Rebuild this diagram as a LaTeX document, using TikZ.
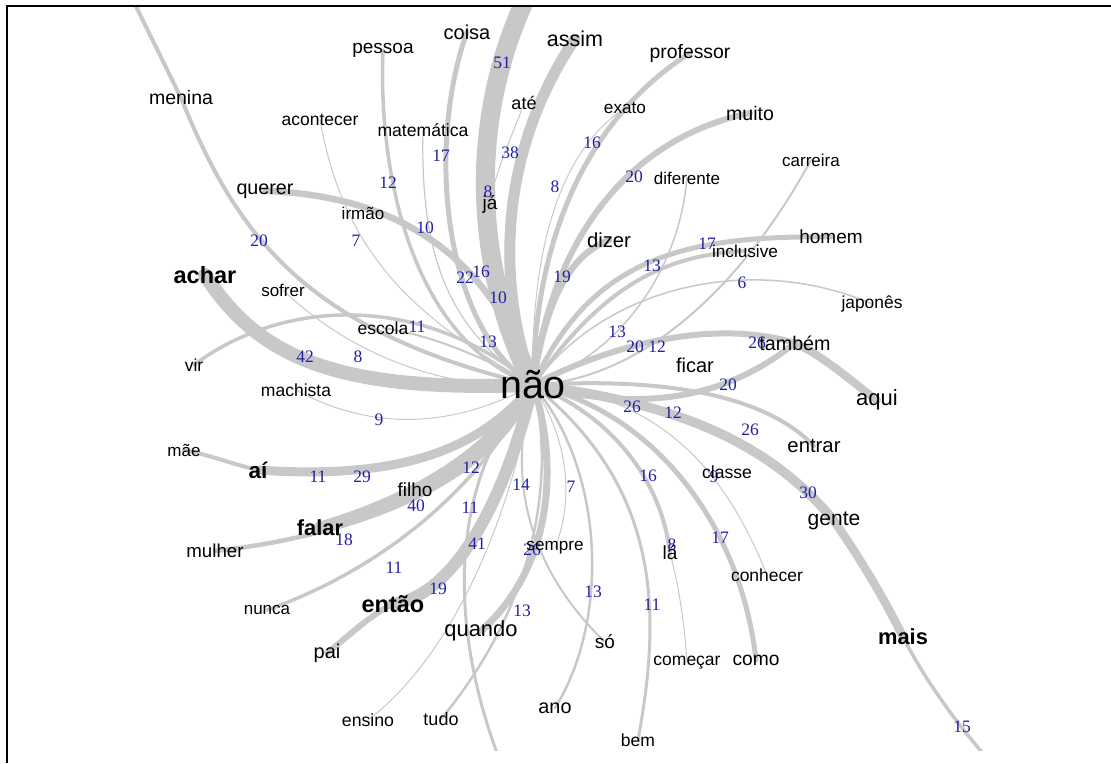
\documentclass[tikz,border=0pt]{standalone}
\usepackage{fontspec}
\setmainfont{Liberation Sans}
\newfontfamily\lblfont{Liberation Serif}
\definecolor{eg}{RGB}{200,200,200}
\definecolor{lb}{RGB}{32,32,165}
\pgfdeclarelayer{bg}
\pgfdeclarelayer{mid}
\pgfsetlayers{bg,mid,main}
\begin{document}
\begin{tikzpicture}[x=1pt,y=-1pt,
  wd/.style={inner sep=0pt, text=black, font=\fontsize{#1}{#1}\selectfont},
  wdb/.style={inner sep=0pt, text=black, font=\bfseries\fontsize{#1}{#1}\selectfont},
  lbl/.style={inner sep=0pt, text=lb, font=\lblfont\fontsize{17.5}{17.5}\selectfont},
  ed/.style={draw=eg, line width=#1, line cap=round},
  frame/.style={draw=black, line width=2pt}]
\useasboundingbox (0,0) rectangle (1111,763);
\draw[frame] (6.7,763) -- (6.7,5.7) -- (1111,5.7);

% words
\node[wd=39.5] (nao) at (533,385) {não};
\node[wd=19.5] (menina) at (181,98) {menina};
\node[wd=19] (pessoa) at (383,50) {pessoa};
\node[wd=20] (coisa) at (467,32) {coisa};
\node[wd=21.5] (assim) at (575,39) {assim};
\node[wd=19.4] (professor) at (690,53) {professor};
\node[wd=17.5] (acontecer) at (320,120) {acontecer};
\node[wd=17.6] (matematica) at (423,130) {matemática};
\node[wd=18] (ate) at (524,103) {até};
\node[wd=17.2] (exato) at (625,108) {exato};
\node[wd=19.6] (muito) at (750,113) {muito};
\node[wd=17] (carreira) at (811,160) {carreira};
\node[wd=17] (diferente) at (687,178) {diferente};
\node[wd=19.7] (querer) at (265,191) {querer};
\node[wd=17] (irmao) at (363,213) {irmão};
\node[wd=19] (ja) at (490,204) {já};
\node[wd=20.3] (dizer) at (609,240) {dizer};
\node[wd=19] (homem) at (831,237) {homem};
\node[wd=17.2] (inclusive) at (745,251) {inclusive};
\node[wdb=23.5] (achar) at (205,275) {achar};
\node[wd=17] (sofrer) at (283,290) {sofrer};
\node[wd=17.4] (japones) at (872,304) {japonês};
\node[wd=17.5] (escola) at (383,328) {escola};
\node[wd=19.7] (tambem) at (795,343) {também};
\node[wd=17.5] (vir) at (194,365) {vir};
\node[wd=20] (ficar) at (695,365) {ficar};
\node[wd=17.5] (machista) at (296,390) {machista};
\node[wd=22] (aqui) at (877,400) {aqui};
\node[wd=20.3] (entrar) at (814,446) {entrar};
\node[wd=17] (mae) at (184,450) {mãe};
\node[wdb=22.5] (ai) at (258,470) {aí};
\node[wd=17.6] (classe) at (727,472) {classe};
\node[wd=19] (filho) at (415,490) {filho};
\node[wd=21] (gente) at (834,521) {gente};
\node[wdb=21.8] (falar) at (320,528) {falar};
\node[wd=18.7] (mulher) at (215,551) {mulher};
\node[wd=17.1] (sempre) at (555,548) {sempre};
\node[wd=19] (la) at (670,553) {lá};
\node[wd=17.5] (conhecer) at (767,575) {conhecer};
\node[wd=17] (nunca) at (267,610) {nunca};
\node[wdb=23.5] (entao) at (393,604) {então};
\node[wd=21.9] (quando) at (481,631) {quando};
\node[wd=19] (so) at (605,642) {só};
\node[wd=20] (pai) at (327,653) {pai};
\node[wd=17.5] (comecar) at (687,663) {começar};
\node[wd=19.2] (como) at (756,660) {como};
\node[wdb=21.9] (mais) at (903,637) {mais};
\node[wd=19.8] (ano) at (555,708) {ano};
\node[wd=17.7] (ensino) at (368,720) {ensino};
\node[wd=18] (tudo) at (441,719) {tudo};
\node[wd=17.5] (bem) at (638,740) {bem};

\coordinate (offt) at (530,-10);
\coordinate (offtl) at (128,-10);
\coordinate (offb) at (512,790);
\coordinate (offbr) at (1005,778);

% connectors
\begin{pgfonlayer}{bg}
\begin{scope}
\clip (7.7,6.7) rectangle (1111,750);
\draw[ed=19] (nao.center) .. controls (470,260) and (470,110) .. (offt);
\draw[ed=11] (nao.center) .. controls (495,280) and (500,150) .. (assim.center);
\draw[ed=1] (ja.center) .. controls (495,170) and (515,130) .. (ate.center);
\draw[ed=5] (nao.center) .. controls (445,330) and (425,150) .. (coisa.center);
\draw[ed=3.5] (nao.center) .. controls (410,340) and (378,170) .. (pessoa.center);
\draw[ed=1.2] (nao.center) .. controls (450,330) and (420,260) .. (matematica.center);
\draw[ed=6.5] (querer.center) .. controls (390,195) and (490,250) .. (nao.center);
\draw[ed=4] (offtl) -- (menina.center);
\draw[ed=4] (menina.center) .. controls (235,230) and (300,330) .. (nao.center);
\draw[ed=1] (acontecer.center) .. controls (345,260) and (420,320) .. (nao.center);
\draw[ed=14] (achar.center) .. controls (260,360) and (340,392) .. (nao.center);
\draw[ed=3.5] (vir.center) .. controls (280,300) and (420,290) .. (nao.center);
\draw[ed=1] (sofrer.center) .. controls (340,345) and (430,390) .. (nao.center);
\draw[ed=2] (escola.center) .. controls (430,335) and (480,355) .. (nao.center);
\draw[ed=1] (machista.center) .. controls (360,425) and (440,435) .. (nao.center);
\draw[ed=4] (mae.center) .. controls (210,455) and (235,465) .. (ai.center);
\draw[ed=9] (ai.center) .. controls (400,480) and (480,450) .. (nao.center);
\draw[ed=4] (filho.center) .. controls (460,470) and (500,430) .. (nao.center);
\draw[ed=13] (falar.center) .. controls (400,505) and (490,460) .. (nao.center);
\draw[ed=4.5] (mulher.center) .. controls (360,535) and (500,480) .. (nao.center);
\draw[ed=3.5] (nunca.center) .. controls (380,570) and (480,490) .. (nao.center);
\draw[ed=12] (entao.center) .. controls (455,595) and (505,500) .. (nao.center);
\draw[ed=6] (pai.center) .. controls (350,635) and (370,615) .. (entao.center);
\draw[ed=7] (quando.center) .. controls (560,560) and (555,450) .. (nao.center);
\draw[ed=1] (ensino.center) .. controls (460,650) and (515,500) .. (nao.center);
\draw[ed=2.5] (tudo.center) .. controls (540,600) and (555,470) .. (nao.center);
\draw[ed=3] (nao.center) .. controls (440,490) and (450,650) .. (offb);
\draw[ed=1] (nao.center) .. controls (575,450) and (570,510) .. (sempre.center);
\draw[ed=2] (nao.center) .. controls (505,480) and (530,570) .. (so.center);
\draw[ed=2.5] (nao.center) .. controls (605,470) and (610,620) .. (ano.center);
\draw[ed=3] (nao.center) .. controls (665,490) and (660,620) .. (bem.center);
\draw[ed=4] (nao.center) .. controls (600,410) and (660,470) .. (la.center);
\draw[ed=1] (la.center) .. controls (680,590) and (685,630) .. (comecar.center);
\draw[ed=5] (nao.center) .. controls (650,410) and (740,520) .. (como.center);
\draw[ed=1] (nao.center) .. controls (660,395) and (725,470) .. (conhecer.center);
\draw[ed=4] (nao.center) .. controls (650,378) and (760,390) .. (entrar.center);
\draw[ed=9.5] (nao.center) .. controls (650,400) and (760,430) .. (gente.center);
\draw[ed=8.5] (gente.center) .. controls (865,565) and (890,610) .. (mais.center);
\draw[ed=3.5] (mais.center) .. controls (925,680) and (960,730) .. (offbr);
\draw[ed=6] (nao.center) .. controls (620,340) and (720,320) .. (tambem.center);
\draw[ed=6] (nao.center) .. controls (650,415) and (730,395) .. (tambem.center);
\draw[ed=8] (tambem.center) .. controls (830,360) and (855,385) .. (aqui.center);
\draw[ed=5] (nao.center) .. controls (590,260) and (680,235) .. (homem.center);
\draw[ed=4] (nao.center) .. controls (600,290) and (660,255) .. (inclusive.center);
\draw[ed=2] (nao.center) .. controls (640,380) and (740,290) .. (carreira.center);
\draw[ed=1.5] (nao.center) .. controls (610,280) and (760,255) .. (japones.center);
\draw[ed=1.5] (nao.center) .. controls (630,350) and (680,260) .. (diferente.center);
\draw[ed=6] (nao.center) .. controls (550,250) and (620,140) .. (muito.center);
\draw[ed=5] (nao.center) .. controls (535,240) and (585,120) .. (professor.center);
\draw[ed=1] (nao.center) .. controls (530,250) and (560,150) .. (exato.center);
\draw[ed=6.5] (nao.center) .. controls (545,300) and (570,255) .. (dizer.center);
\end{scope}
\end{pgfonlayer}

% connector labels
\begin{pgfonlayer}{mid}
\node[lbl] (l1) at (502,63) {51};
\node[lbl] (l2) at (510,153) {38};
\node[lbl] (l3) at (488,192) {8};
\node[lbl] (l4) at (441,156) {17};
\node[lbl] (l5) at (388,183) {12};
\node[lbl] (l6) at (425,228) {10};
\node[lbl] (l7) at (465,278) {22};
\node[lbl] (l8) at (481,272) {16};
\node[lbl] (l9) at (498,298) {10};
\node[lbl] (l10) at (259,241) {20};
\node[lbl] (l11) at (356,241) {7};
\node[lbl] (l12) at (488,342) {13};
\node[lbl] (l13) at (417,327) {11};
\node[lbl] (l14) at (305,357) {42};
\node[lbl] (l15) at (358,357) {8};
\node[lbl] (l16) at (379,420) {9};
\node[lbl] (l17) at (318,477) {11};
\node[lbl] (l18) at (362,477) {29};
\node[lbl] (l19) at (471,468) {12};
\node[lbl] (l20) at (416,506) {40};
\node[lbl] (l21) at (344,540) {18};
\node[lbl] (l22) at (470,508) {11};
\node[lbl] (l23) at (521,485) {14};
\node[lbl] (l24) at (571,487) {7};
\node[lbl] (l25) at (477,544) {41};
\node[lbl] (l26) at (394,568) {11};
\node[lbl] (l27) at (438,589) {19};
\node[lbl] (l28) at (532,550) {26};
\node[lbl] (l29) at (522,611) {13};
\node[lbl] (l30) at (593,592) {13};
\node[lbl] (l31) at (652,605) {11};
\node[lbl] (l32) at (648,476) {16};
\node[lbl] (l33) at (672,545) {8};
\node[lbl] (l34) at (720,538) {17};
\node[lbl] (l35) at (714,477) {9};
\node[lbl] (l36) at (808,493) {30};
\node[lbl] (l37) at (750,430) {26};
\node[lbl] (l38) at (673,413) {12};
\node[lbl] (l39) at (632,407) {26};
\node[lbl] (l40) at (728,385) {20};
\node[lbl] (l41) at (635,347) {20};
\node[lbl] (l42) at (657,347) {12};
\node[lbl] (l43) at (617,332) {13};
\node[lbl] (l44) at (757,343) {26};
\node[lbl] (l45) at (742,283) {6};
\node[lbl] (l46) at (652,266) {13};
\node[lbl] (l47) at (707,244) {17};
\node[lbl] (l48) at (562,277) {19};
\node[lbl] (l49) at (555,187) {8};
\node[lbl] (l50) at (592,143) {16};
\node[lbl] (l51) at (634,177) {20};
\node[lbl] (l52) at (962,727) {15};
\end{pgfonlayer}
\end{tikzpicture}
\end{document}
